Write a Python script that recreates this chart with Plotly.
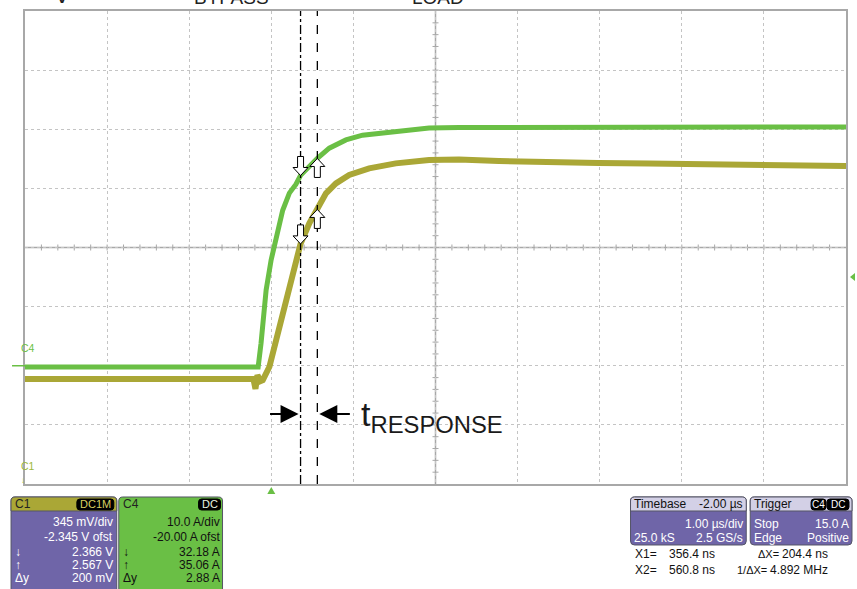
import plotly.graph_objects as go

# --- scope settings / readouts ---
TIMEBASE = -2.0          # us
T_DIV = 1.0              # us/div
C1_SCALE, C1_OFST = 0.345, -2.345   # V/div, V
C4_SCALE, C4_OFST = 10.0, -20.0     # A/div, A
TRIG_LEVEL = 15.0        # A
CURSOR_T = [0.3564, 0.5608]          # us
C1_CURSOR = [2.366, 2.567]           # V
C4_CURSOR = [32.18, 35.06]           # A
C1_DY = 0.200

# --- traces ---
t_c4 = [-3.0, -0.16, -0.125, -0.104, -0.063, -0.002, 0.058, 0.139, 0.220, 0.301,
        0.356, 0.561, 0.706, 0.909, 1.111, 1.516, 1.921, 2.286, 3.0, 4.0, 5.2, 6.0, 7.0]
i_c4 = [-0.2, -0.2, 3.8, 6.6, 12.8, 17.9, 21.8, 26.3, 29.2, 30.7,
        32.2, 35.1, 36.8, 38.2, 39.0, 39.6, 40.2, 40.3, 40.3, 40.3, 40.4, 40.4, 40.4]

t_c1 = [-3.0, -0.217, -0.193, -0.169, -0.132, -0.104, -0.023, 0.058, 0.139, 0.220,
        0.301, 0.356, 0.463, 0.561, 0.666, 0.787, 0.949, 1.192, 1.516, 1.921,
        2.286, 2.772, 3.379, 3.987, 4.594, 5.202, 5.809, 6.417, 7.0]
v_c1 = [1.577, 1.577, 1.52, 1.60, 1.565, 1.571, 1.649, 1.805, 1.961, 2.116,
        2.253, 2.366, 2.486, 2.567, 2.661, 2.719, 2.768, 2.807, 2.836, 2.856,
        2.859, 2.850, 2.841, 2.838, 2.835, 2.830, 2.827, 2.821, 2.821]

GREEN = "#6abf45"
OLIVE = "#aaa736"
PURPLE = "#6f65a8"
LIGHT = "#d3d0e6"
GRID = "#c4c4c4"
FONT = "Arial, Liberation Sans, sans-serif"

# plot area in page pixels
L, R, T, B = 25, 848, 11, 484


def fx(p):
    return (p - L) / (R - L)


def fy(p):
    return (B - p) / (B - T)


def rrect(x0, y0, x1, y1, rt=4, rb=4):
    pts = [("M", x0 + rt, y0), ("L", x1 - rt, y0), ("Q", x1, y0, x1, y0 + rt),
           ("L", x1, y1 - rb), ("Q", x1, y1, x1 - rb, y1), ("L", x0 + rb, y1),
           ("Q", x0, y1, x0, y1 - rb), ("L", x0, y0 + rt), ("Q", x0, y0, x0 + rt, y0)]
    s = ""
    for p in pts:
        s += p[0] + " " + " ".join(
            f"{fx(v):.5f}" if k % 2 == 0 else f"{fy(v):.5f}" for k, v in enumerate(p[1:])) + " "
    return s + "Z"


x_rng = [-TIMEBASE - 5 * T_DIV, -TIMEBASE + 5 * T_DIV]
c4_rng = [-C4_OFST - 4 * C4_SCALE, -C4_OFST + 4 * C4_SCALE]
c1_rng = [-C1_OFST - 4 * C1_SCALE, -C1_OFST + 4 * C1_SCALE]

fig = go.Figure()
fig.add_trace(go.Scatter(x=t_c4, y=i_c4, mode="lines", line=dict(color=GREEN, width=5),
                         name="C4", yaxis="y"))
fig.add_trace(go.Scatter(x=t_c1, y=v_c1, mode="lines", line=dict(color=OLIVE, width=6),
                         name="C1", yaxis="y2"))

fig.update_layout(
    width=857, height=589,
    margin=dict(l=L, r=857 - R, t=T, b=589 - B),
    paper_bgcolor="white", plot_bgcolor="white",
    showlegend=False,
    font=dict(family=FONT),
    xaxis=dict(range=x_rng, dtick=T_DIV, showticklabels=False, ticks="", zeroline=False,
               showgrid=True, gridcolor=GRID, griddash="dot", gridwidth=1,
               showline=True, mirror=True, linecolor="#a8a8a8", linewidth=2),
    yaxis=dict(range=c4_rng, dtick=C4_SCALE, showticklabels=False, ticks="", zeroline=False,
               showgrid=True, gridcolor=GRID, griddash="dot", gridwidth=1,
               showline=True, mirror=True, linecolor="#a8a8a8", linewidth=2),
    yaxis2=dict(range=c1_rng, overlaying="y", visible=False),
)

# centre cross with minor ticks
xc = -TIMEBASE
yc = -C4_OFST
fig.add_shape(type="line", xref="x", yref="paper", x0=xc, x1=xc, y0=0, y1=1,
              line=dict(color="#a8a8a8", width=1.5), layer="below")
fig.add_shape(type="line", xref="paper", yref="y", x0=0, x1=1, y0=yc, y1=yc,
              line=dict(color="#a8a8a8", width=1.5), layer="below")
for k in range(1, 40):
    v = c4_rng[0] + k * C4_SCALE / 5
    fig.add_shape(type="line", xref="x", yref="y", xsizemode="pixel", xanchor=xc,
                  x0=-3, x1=3, y0=v, y1=v, line=dict(color="#a8a8a8", width=1), layer="below")
for k in range(1, 50):
    v = x_rng[0] + k * T_DIV / 5
    fig.add_shape(type="line", xref="x", yref="y", ysizemode="pixel", yanchor=yc,
                  x0=v, x1=v, y0=-3, y1=3, line=dict(color="#a8a8a8", width=1), layer="below")

# cursors
fig.add_vline(x=CURSOR_T[0], line=dict(color="black", width=1.3, dash="dashdot"))
fig.add_vline(x=CURSOR_T[1], line=dict(color="black", width=1.3, dash="dash"))

down = "M 0 0 L -7.5 8 L -3 8 L -3 19 L 3 19 L 3 8 L 7.5 8 Z"
up = "M 0 0 L -7.5 -8 L -3 -8 L -3 -19 L 3 -19 L 3 -8 L 7.5 -8 Z"
for tx, val, yr, p in [(CURSOR_T[0], C4_CURSOR[0], "y", down), (CURSOR_T[1], C4_CURSOR[1], "y", up),
                       (CURSOR_T[0], C1_CURSOR[0], "y2", down), (CURSOR_T[1], C1_CURSOR[1], "y2", up)]:
    fig.add_shape(type="path", xref="x", yref=yr, xsizemode="pixel", ysizemode="pixel",
                  xanchor=tx, yanchor=val, path=p, fillcolor="white",
                  line=dict(color="black", width=1))

# response time arrows and label
fig.add_annotation(x=CURSOR_T[0], y=fy(414), xref="x", yref="paper", text="", showarrow=True,
                   ax=-32, ay=0, arrowhead=2, arrowsize=1.8, arrowwidth=2, standoff=2,
                   arrowcolor="black")
fig.add_annotation(x=CURSOR_T[1], y=fy(414), xref="x", yref="paper", text="", showarrow=True,
                   ax=34, ay=0, arrowhead=2, arrowsize=1.8, arrowwidth=2, standoff=2,
                   arrowcolor="black")
fig.add_annotation(x=fx(360), y=fy(416), xref="paper", yref="paper", xanchor="left",
                   yanchor="middle", showarrow=False, text="t<sub>RESPONSE</sub>",
                   font=dict(size=34, color="#1a1a1a", family=FONT))

# labels cut off at the top of the picture
for s, px_, sz in [("V", 52, 24), ("BYPASS", 192, 19), ("LOAD", 411, 19)]:
    fig.add_annotation(x=fx(px_), y=fy(10), xref="paper", yref="paper", xanchor="left",
                       yanchor="bottom", showarrow=False, text=s,
                       font=dict(size=sz, color="#222222", family=FONT))

# channel markers
fig.add_shape(type="line", xref="paper", yref="y", x0=fx(12), x1=fx(25), y0=0, y1=0,
              line=dict(color=GREEN, width=1.5))
fig.add_annotation(x=fx(19), y=fy(356), xref="paper", yref="paper", text="C4", showarrow=False,
                   font=dict(size=10.5, color=GREEN))
fig.add_annotation(x=fx(19), y=fy(474), xref="paper", yref="paper", text="C1", showarrow=False,
                   font=dict(size=10.5, color="#9cb83c"))
fig.add_annotation(x=fx(19), y=fy(487), xref="paper", yref="paper", text="↓", showarrow=False,
                   font=dict(size=8, color="#9cb83c"))
fig.add_shape(type="path", xref="x", yref="paper", xsizemode="pixel", ysizemode="pixel",
              xanchor=0, yanchor=0, path="M 0 -3 L 4 -10 L -4 -10 Z", fillcolor=GREEN,
              line=dict(width=0))
fig.add_shape(type="path", xref="paper", yref="y", xsizemode="pixel", ysizemode="pixel",
              xanchor=1, yanchor=TRIG_LEVEL, path="M 4 0 L 9 4 L 9 -4 Z", fillcolor=GREEN,
              line=dict(width=0))


# --- readout panels ---
def box(x0, y0, x1, y1, color, rt=4, rb=4, lc="#555566"):
    fig.add_shape(type="path", xref="paper", yref="paper", path=rrect(x0, y0, x1, y1, rt, rb),
                  fillcolor=color, line=dict(color=lc, width=1))


def txt(s, x, y, anchor="left", color="white", size=12):
    fig.add_annotation(x=fx(x), y=fy(y), xref="paper", yref="paper", xanchor=anchor,
                       yanchor="middle", showarrow=False, text=s, borderpad=0,
                       font=dict(size=size, color=color, family=FONT))


# C1
box(11, 497, 117, 600, PURPLE)
box(11, 497, 117, 511, OLIVE, rt=4, rb=0)
box(77, 499, 114, 510, "black", rt=3, rb=3, lc="black")
txt("C1", 14, 504, color="#222222")
txt("DC1M", 95.5, 504.5, "center", color="#d8d060", size=11)
txt(f"{C1_SCALE * 1000:.0f} mV/div", 114, 522, "right")
txt(f"{C1_OFST:.3f} V ofst", 114, 537, "right")
txt("↓", 14, 552)
txt(f"{C1_CURSOR[0]:.3f} V", 114, 552, "right")
txt("↑", 14, 565)
txt(f"{C1_CURSOR[1]:.3f} V", 114, 565, "right")
txt("Δy", 14, 578)
txt(f"{C1_DY * 1000:.0f} mV", 114, 578, "right")

# C4
box(119, 497, 223, 600, GREEN)
box(199, 499, 221, 510, "black", rt=3, rb=3, lc="black")
txt("C4", 122, 504, color="#222222")
txt("DC", 210, 504.5, "center", color="#e8f4e0", size=11)
txt(f"{C4_SCALE:.1f} A/div", 221, 522, "right", "#111111")
txt(f"{C4_OFST:.2f} A ofst", 221, 537, "right", "#111111")
txt("↓", 122, 552, color="#111111")
txt(f"{C4_CURSOR[0]:.2f} A", 221, 552, "right", "#111111")
txt("↑", 122, 565, color="#111111")
txt(f"{C4_CURSOR[1]:.2f} A", 221, 565, "right", "#111111")
txt("Δy", 122, 578, color="#111111")
txt(f"{C4_CURSOR[1] - C4_CURSOR[0]:.2f} A", 221, 578, "right", "#111111")

# Timebase
box(632, 497, 748, 545, PURPLE)
box(632, 497, 748, 511, LIGHT, rt=4, rb=0)
txt("Timebase", 634, 504, color="#111111")
txt(f"{TIMEBASE:.2f} µs", 746, 504, "right", "#111111")
txt(f"{T_DIV:.2f} µs/div", 746, 524, "right")
txt("25.0 kS", 634, 538)
txt("2.5 GS/s", 746, 538, "right")

# Trigger
box(752, 497, 854, 545, PURPLE)
box(752, 497, 854, 511, LIGHT, rt=4, rb=0)
box(813, 499, 828, 510, "black", rt=3, rb=3, lc="black")
box(829, 499, 851, 510, "black", rt=3, rb=3, lc="black")
txt("Trigger", 755, 504, color="#111111")
txt("C4", 820.5, 504.5, "center", "white", 10)
txt("DC", 840, 504.5, "center", "white", 10)
txt("Stop", 755, 524)
txt(f"{TRIG_LEVEL:.1f} A", 852, 524, "right")
txt("Edge", 755, 538)
txt("Positive", 852, 538, "right")

# cursor readouts
dx = CURSOR_T[1] - CURSOR_T[0]
txt("X1=", 635, 554, color="#111111")
txt(f"{CURSOR_T[0] * 1000:.1f} ns", 718, 554, "right", "#111111")
txt("ΔX=", 759, 554, color="#111111", size=11)
txt(f"{dx * 1000:.1f} ns", 831, 554, "right", "#111111")
txt("X2=", 635, 570, color="#111111")
txt(f"{CURSOR_T[1] * 1000:.1f} ns", 718, 570, "right", "#111111")
txt("1/ΔX=", 770, 570, "right", "#111111", 11)
txt(f"{1 / dx:.3f} MHz", 831, 570, "right", "#111111")

# the page body margin would push the figure 8 px in; drop it so the figure fills the window
fig.write_html("out.html", config={"displayModeBar": False},
               post_script="document.body.style.margin='0';document.body.style.overflow='hidden';")
